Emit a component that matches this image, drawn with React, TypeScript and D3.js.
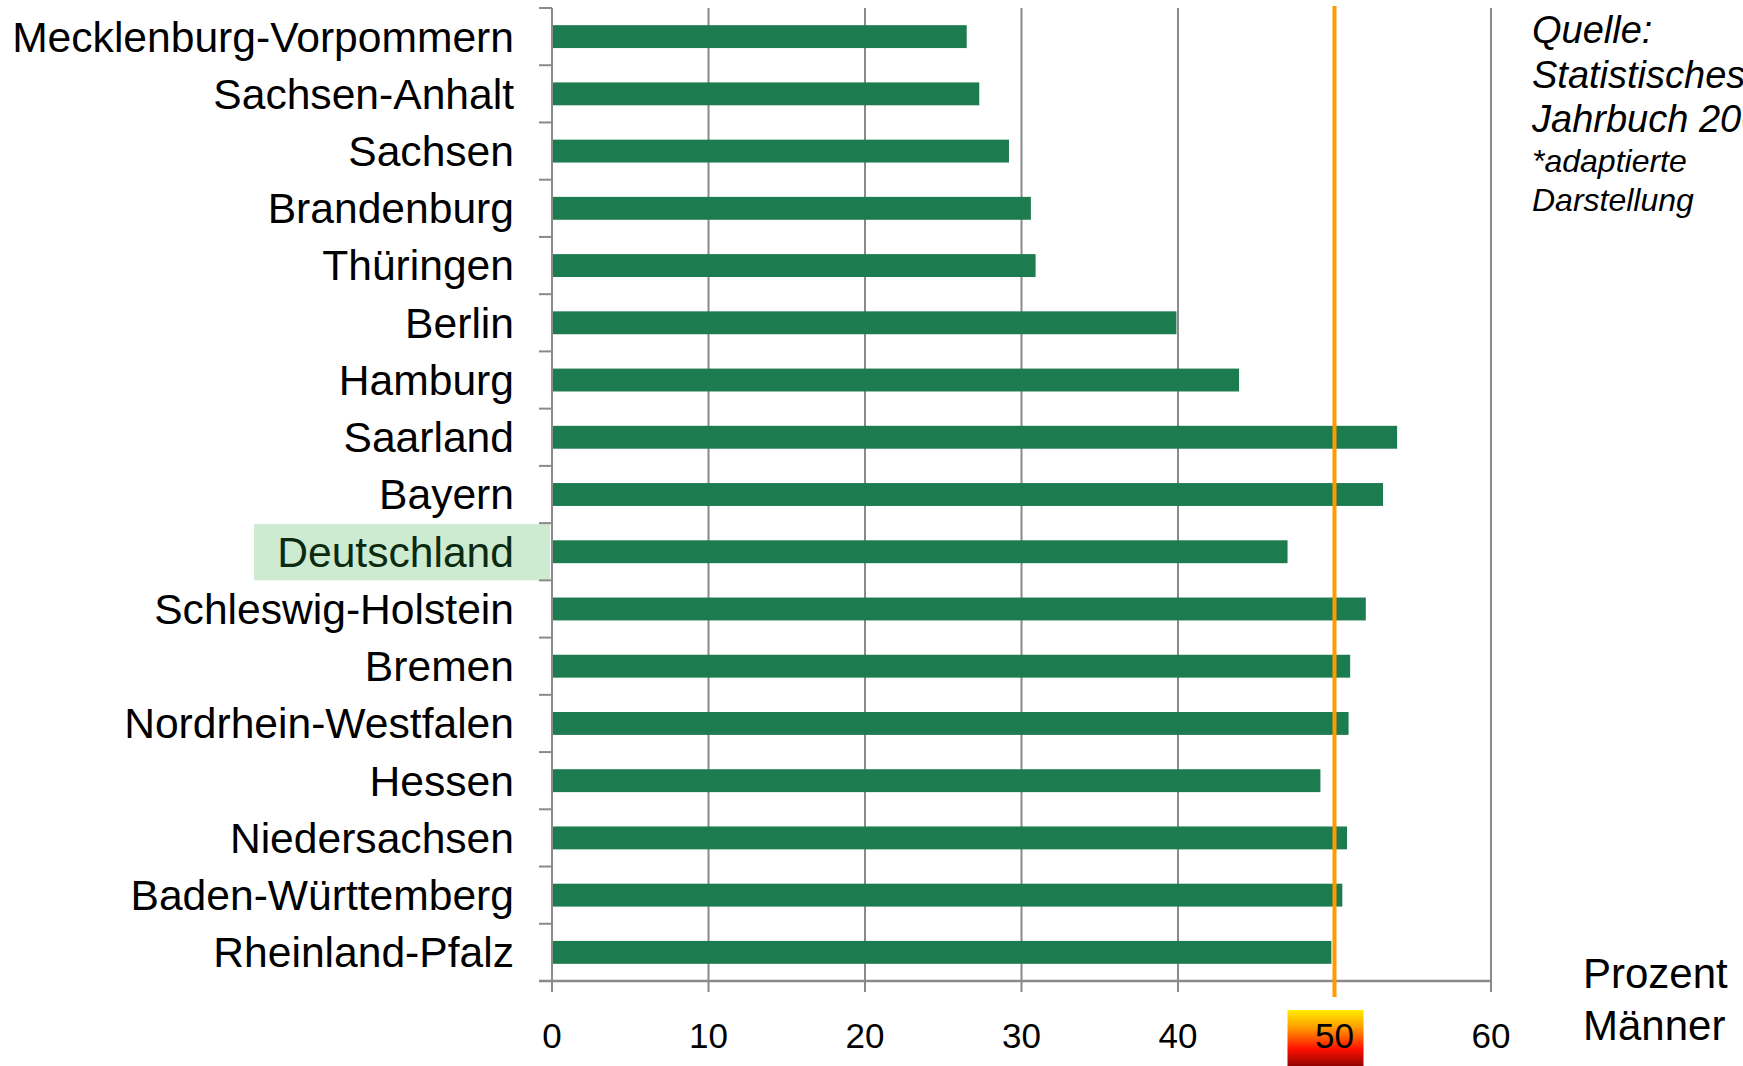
import React from "react";
import * as d3 from "d3";

const categories = [
  "Mecklenburg-Vorpommern",
  "Sachsen-Anhalt",
  "Sachsen",
  "Brandenburg",
  "Thüringen",
  "Berlin",
  "Hamburg",
  "Saarland",
  "Bayern",
  "Deutschland",
  "Schleswig-Holstein",
  "Bremen",
  "Nordrhein-Westfalen",
  "Hessen",
  "Niedersachsen",
  "Baden-Württemberg",
  "Rheinland-Pfalz",
];
const values = [26.5, 27.3, 29.2, 30.6, 30.9, 39.9, 43.9, 54.0, 53.1, 47.0, 52.0, 51.0, 50.9, 49.1, 50.8, 50.5, 49.8];
const xTicks = [0, 10, 20, 30, 40, 50, 60];
const highlighted = "Deutschland";
const refValue = 50;
const sourceLines = ["Quelle:", "Statistisches", "Jahrbuch 2008"];
const noteLines = ["*adaptierte", "Darstellung"];
const unitLines = ["Prozent", "Männer"];

const W = 1743;
const H = 1066;
const FONT = "'Liberation Sans', Arial, sans-serif";

export default function App() {
  const x = d3.scaleLinear().domain([0, 60]).range([552, 1491]);
  const y = d3.scaleBand<string>().domain(categories).range([8, 981]).paddingInner(0.6).paddingOuter(0.3);
  const band = d3.scaleBand<string>().domain(categories).range([8, 981]);
  const grid = "#8a8a8a";
  const axisY = 981;

  return (
    <svg width={W} height={H} style={{ position: "absolute", left: 0, top: 0, background: "#fff" }} fontFamily={FONT}>
      <defs>
        <linearGradient id="g50" x1="0" y1="0" x2="0" y2="1">
          <stop offset="0" stopColor="#ffee00" />
          <stop offset="0.3" stopColor="#ff9a00" />
          <stop offset="0.65" stopColor="#ff1000" />
          <stop offset="1" stopColor="#7a0000" />
        </linearGradient>
      </defs>
      {/* highlight box */}
      {categories.map((c) =>
        c === highlighted ? (
          <rect key={"hl" + c} x={254} y={band(c)! + 1} width={296} height={band.bandwidth() - 1} fill="#cdebd1" />
        ) : null
      )}
      {/* vertical gridlines */}
      {xTicks.map((t) => (
        <line key={"g" + t} x1={x(t)} x2={x(t)} y1={8} y2={axisY + 11} stroke={grid} strokeWidth={2} />
      ))}
      {/* category ticks */}
      {[...categories.map((c) => band(c)!), 981].map((yy, i) => (
        <line key={"ct" + i} x1={539} x2={552} y1={yy} y2={yy} stroke={grid} strokeWidth={2} />
      ))}
      {/* x axis line */}
      <line x1={539} x2={x(60)} y1={axisY} y2={axisY} stroke={grid} strokeWidth={2.5} />
      {/* bars */}
      {categories.map((c, i) => (
        <rect key={"b" + c} x={x(0) + 1} y={y(c)!} width={x(values[i]) - x(0) - 1} height={y.bandwidth()} fill="#1d7c4f" />
      ))}
      {/* reference line */}
      <line x1={x(refValue)} x2={x(refValue)} y1={6} y2={997} stroke="#ff9a00" strokeWidth={4} />
      {/* category labels */}
      {categories.map((c) => (
        <text
          key={"l" + c}
          x={514}
          y={band(c)! + band.bandwidth() / 2}
          dy="0.35em"
          textAnchor="end"
          fontSize={42.6}
          fill={c === highlighted ? "#0b2a10" : "#000"}
        >
          {c}
        </text>
      ))}
      {/* tick label background for 50 */}
      <rect x={x(refValue) - 47} y={1010} width={76} height={60} fill="url(#g50)" />
      {xTicks.map((t) => (
        <text key={"tl" + t} x={x(t)} y={1048} textAnchor="middle" fontSize={35} fill="#000">
          {t}
        </text>
      ))}
      {/* unit */}
      {unitLines.map((s, i) => (
        <text key={"u" + i} x={1583} y={988 + i * 52} fontSize={42} fill="#000">
          {s}
        </text>
      ))}
      {/* source */}
      {sourceLines.map((s, i) => (
        <text key={"s" + i} x={1532} y={43 + i * 44.5} fontSize={38} fontStyle="italic" fill="#000">
          {s}
        </text>
      ))}
      {noteLines.map((s, i) => (
        <text key={"n" + i} x={1532} y={172 + i * 39} fontSize={32} fontStyle="italic" fill="#000">
          {s}
        </text>
      ))}
    </svg>
  );
}
